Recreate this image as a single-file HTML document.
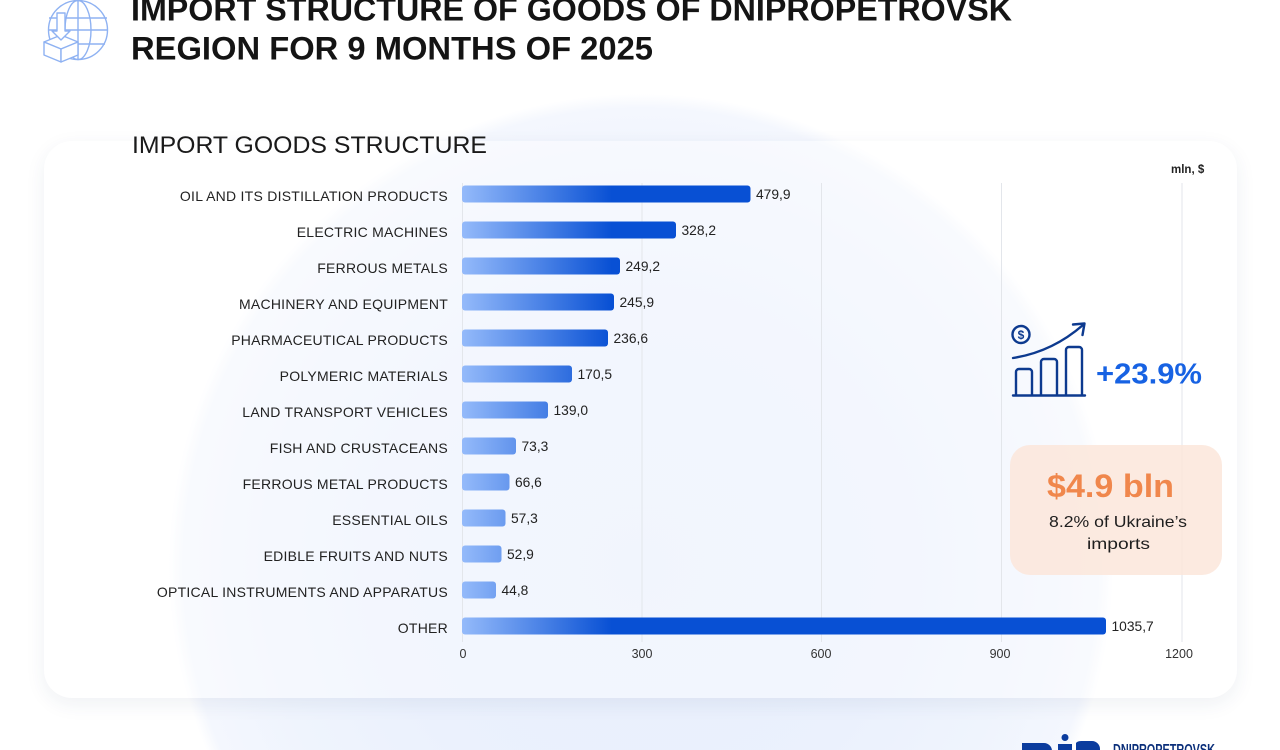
<!DOCTYPE html>
<html>
<head>
<meta charset="utf-8">
<style>
html,body{margin:0;padding:0;width:1280px;height:750px;overflow:hidden;}
body{background:#ffffff;position:relative;font-family:"Liberation Sans",sans-serif;}
.wrap{position:absolute;left:0;top:0;width:1280px;height:750px;overflow:hidden;
background:radial-gradient(circle 472px at 641px 566px,#e8effc 0%,#ebf1fd 55%,#eff4fd 80%,#f4f7fe 97%,#ffffff 100%);}
.card{position:absolute;left:44px;top:141px;width:1193px;height:557px;border-radius:28px;background:rgba(255,255,255,0.4);box-shadow:0 6px 20px rgba(30,50,100,0.07);}
svg{position:absolute;left:0;top:0;}
</style>
</head>
<body>
<div class="wrap">
<div class="card"></div>
<svg width="1280" height="750" viewBox="0 0 1280 750" xmlns="http://www.w3.org/2000/svg" font-family="'Liberation Sans', sans-serif">
  <defs>
    <linearGradient id="bg" gradientUnits="userSpaceOnUse" x1="462" y1="0" x2="612" y2="0">
      <stop offset="0" stop-color="#94bafa"/>
      <stop offset="1" stop-color="#0850d4"/>
    </linearGradient>
    <clipPath id="logoclip"><rect x="1000" y="720" width="280" height="30"/></clipPath>
  </defs>

  <!-- header icon -->
  <g fill="none" stroke="#8fb2f2" stroke-width="1.4" stroke-linejoin="round">
    <circle cx="78" cy="30" r="29.5"/>
    <ellipse cx="78" cy="30" rx="13" ry="29.5"/>
    <line x1="78" y1="1" x2="78" y2="60"/>
    <line x1="49" y1="18" x2="107" y2="18"/>
    <line x1="48.5" y1="30" x2="107.5" y2="30"/>
    <line x1="51" y1="44" x2="105" y2="44"/>
    <path d="M44,42 L61,35 L78,42 L61,49 Z" fill="#ffffff"/>
    <path d="M44,42 L44,55 L61,62 L61,49 Z" fill="#ffffff"/>
    <path d="M61,62 L78,55 L78,42 L61,49 Z" fill="#ffffff"/>
    <path d="M57,13 H65 V31 H70 L61,40 L52,31 H57 Z" fill="#ffffff"/>
  </g>

  <!-- title -->
  <text x="131" y="20.7" font-size="32.5" font-weight="bold" fill="#141414" textLength="881" lengthAdjust="spacingAndGlyphs">IMPORT STRUCTURE OF GOODS OF DNIPROPETROVSK</text>
  <text x="131" y="59.3" font-size="32.5" font-weight="bold" fill="#141414" textLength="522" lengthAdjust="spacingAndGlyphs">REGION FOR 9 MONTHS OF 2025</text>

  <text x="132" y="153" font-size="24.5" fill="#1a1a1a" textLength="355" lengthAdjust="spacingAndGlyphs">IMPORT GOODS STRUCTURE</text>
  <text x="1171" y="173" font-size="11.5" font-weight="bold" fill="#222">mln, $</text>

  <!-- gridlines -->
  <g stroke="#e3e6eb" stroke-width="1">
    <line x1="462.5" y1="183" x2="462.5" y2="642"/>
    <line x1="642" y1="183" x2="642" y2="642"/>
    <line x1="821.5" y1="183" x2="821.5" y2="642"/>
    <line x1="1001.5" y1="183" x2="1001.5" y2="642"/>
    <line x1="1182" y1="183" x2="1182" y2="642"/>
  </g>

  <!-- bars -->
  <g fill="url(#bg)">
    <rect x="462" y="185.5" width="288.5" height="17" rx="3"/>
    <rect x="462" y="221.5" width="214" height="17" rx="3"/>
    <rect x="462" y="257.5" width="158" height="17" rx="3"/>
    <rect x="462" y="293.5" width="152" height="17" rx="3"/>
    <rect x="462" y="329.5" width="146" height="17" rx="3"/>
    <rect x="462" y="365.5" width="110" height="17" rx="3"/>
    <rect x="462" y="401.5" width="86" height="17" rx="3"/>
    <rect x="462" y="437.5" width="54" height="17" rx="3"/>
    <rect x="462" y="473.5" width="47.5" height="17" rx="3"/>
    <rect x="462" y="509.5" width="43.5" height="17" rx="3"/>
    <rect x="462" y="545.5" width="39.5" height="17" rx="3"/>
    <rect x="462" y="581.5" width="34" height="17" rx="3"/>
    <rect x="462" y="617.5" width="644" height="17" rx="3"/>
  </g>

  <!-- category labels -->
  <g font-size="14" fill="#222" text-anchor="end" letter-spacing="0.25">
    <text x="448" y="201">OIL AND ITS DISTILLATION PRODUCTS</text>
    <text x="448" y="237">ELECTRIC MACHINES</text>
    <text x="448" y="273">FERROUS METALS</text>
    <text x="448" y="309">MACHINERY AND EQUIPMENT</text>
    <text x="448" y="345">PHARMACEUTICAL PRODUCTS</text>
    <text x="448" y="381">POLYMERIC MATERIALS</text>
    <text x="448" y="417">LAND TRANSPORT VEHICLES</text>
    <text x="448" y="453">FISH AND CRUSTACEANS</text>
    <text x="448" y="489">FERROUS METAL PRODUCTS</text>
    <text x="448" y="525">ESSENTIAL OILS</text>
    <text x="448" y="561">EDIBLE FRUITS AND NUTS</text>
    <text x="448" y="597">OPTICAL INSTRUMENTS AND APPARATUS</text>
    <text x="448" y="633">OTHER</text>
  </g>

  <!-- value labels -->
  <g font-size="13.8" fill="#222">
    <text x="756" y="199">479,9</text>
    <text x="681.5" y="235">328,2</text>
    <text x="625.5" y="271">249,2</text>
    <text x="619.5" y="307">245,9</text>
    <text x="613.5" y="343">236,6</text>
    <text x="577.5" y="379">170,5</text>
    <text x="553.5" y="415">139,0</text>
    <text x="521.5" y="451">73,3</text>
    <text x="515" y="487">66,6</text>
    <text x="511" y="523">57,3</text>
    <text x="507" y="559">52,9</text>
    <text x="501.5" y="595">44,8</text>
    <text x="1111.5" y="631">1035,7</text>
  </g>

  <!-- ticks -->
  <g font-size="12.5" fill="#333" text-anchor="middle">
    <text x="463" y="658">0</text>
    <text x="642" y="658">300</text>
    <text x="821" y="658">600</text>
    <text x="1000" y="658">900</text>
    <text x="1179" y="658">1200</text>
  </g>

  <!-- growth icon -->
  <g fill="none" stroke="#0d3a8f" stroke-width="2.4" stroke-linecap="round" stroke-linejoin="round">
    <circle cx="1021" cy="334.5" r="8.5"/>
    <path d="M1013,358 Q1052,352 1083,325"/>
    <path d="M1073,324.5 L1084.5,323.5 L1082.5,335"/>
    <path d="M1016,395 V372 a3,3 0 0 1 3,-3 h10 a3,3 0 0 1 3,3 V395"/>
    <path d="M1041,395 V362 a3,3 0 0 1 3,-3 h10 a3,3 0 0 1 3,3 V395"/>
    <path d="M1066,395 V350 a3,3 0 0 1 3,-3 h10 a3,3 0 0 1 3,3 V395"/>
    <path d="M1013,395.5 H1085"/>
  </g>
  <text x="1021" y="339" font-size="12" font-weight="bold" fill="#0d3a8f" text-anchor="middle">$</text>
  <text x="1096" y="383.5" font-size="29" font-weight="bold" fill="#1762e3" textLength="106" lengthAdjust="spacingAndGlyphs">+23.9%</text>

  <!-- orange box -->
  <rect x="1010" y="445" width="212" height="130" rx="20" fill="#fbe6da" fill-opacity="0.85"/>
  <text x="1110.5" y="497" font-size="32" font-weight="bold" fill="#f0874c" text-anchor="middle" textLength="127" lengthAdjust="spacingAndGlyphs">$4.9 bln</text>
  <text x="1118" y="527" font-size="16" fill="#1e1e1e" text-anchor="middle" textLength="138" lengthAdjust="spacingAndGlyphs">8.2% of Ukraine’s</text>
  <text x="1118.5" y="549" font-size="16" fill="#1e1e1e" text-anchor="middle" textLength="63" lengthAdjust="spacingAndGlyphs">imports</text>

  <!-- logo (clipped at bottom edge like reference) -->
  <g clip-path="url(#logoclip)">
    <g fill="#0b3c9e">
      <path d="M1022,743 H1044 a8,8 0 0 1 8,8 V752 H1022 Z"/>
      <rect x="1058" y="744" width="14" height="8"/>
      <circle cx="1065" cy="737.5" r="3.5"/>
      <path d="M1076,743 a6,3 0 0 1 6,-2 H1092 a8,8 0 0 1 8,8 V752 H1076 Z"/>
    </g>
    <text x="1113" y="755" font-size="16" font-weight="bold" fill="#0b2f7a" textLength="102" lengthAdjust="spacingAndGlyphs">DNIPROPETROVSK</text>
  </g>
</svg>
</div>
</body>
</html>
